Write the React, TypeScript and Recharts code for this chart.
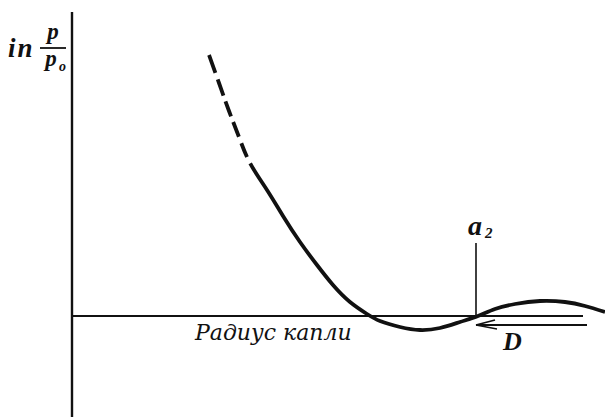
import React from 'react';
import { ComposedChart, Line, XAxis, YAxis, ReferenceLine, ReferenceDot } from 'recharts';

// Droplet radius (x) against ln(p/p0) (y), origin where the axes cross.
const radius = [137, 147, 157, 167, 178, 195, 211, 228, 245, 261, 278, 295, 308, 328, 348, 368, 388, 406, 423, 443, 468, 493, 513, 533];
const lnP = [261, 233, 205, 179, 153, 126, 100, 74, 51, 31, 14, 2, -5, -11, -14, -12, -6, 0, 7, 12, 15, 14, 10, 4];

// the first stretch of the branch is only sketched: dashes, then solid to the end
const SKETCH_DASHES = '19 7 17 6 16 6 16 7 15 7 4000 0';

// second crossing of the zero line, marked a2
const a2Radius = 404;

const X_DOMAIN: [number, number] = [-72, 533];
const Y_DOMAIN: [number, number] = [-101, 316];

const curveData = radius.map((r, i) => ({ r, v: lnP[i] }));

const serif = "'Liberation Serif', 'DejaVu Serif', serif";
const INK = '#111';

const YTitle = (p: any) => {
  const x = p.cx;
  const y = p.cy;
  return (
    <g fill={INK} fontFamily={serif} fontStyle="italic" fontWeight="bold">
      <text x={x} y={y} fontSize={27} letterSpacing={2}>in</text>
      <text x={x + 45} y={y - 18} fontSize={23} textAnchor="middle">p</text>
      <line x1={x + 32} x2={x + 58} y1={y - 9} y2={y - 9} stroke={INK} strokeWidth={1.8} />
      <text x={x + 43} y={y + 9} fontSize={23} textAnchor="middle">p</text>
      <text x={x + 51} y={y + 14} fontSize={14}>o</text>
    </g>
  );
};

const A2Label = (p: any) => (
  <g fill={INK} fontFamily={serif} fontStyle="italic" fontWeight="bold">
    <text x={p.cx} y={p.cy} fontSize={28}>a</text>
    <text x={p.cx + 17} y={p.cy + 3} fontSize={15}>2</text>
  </g>
);

const DLabel = (p: any) => (
  <text x={p.cx} y={p.cy} fill={INK} fontFamily={serif} fontStyle="italic" fontWeight="bold" fontSize={26}>D</text>
);

const RadiusLabel = (p: any) => (
  <text x={p.cx} y={p.cy} fill={INK} fontFamily="'DejaVu Serif', serif" fontStyle="italic" fontSize={22}>
    Радиус капли
  </text>
);

export default function App() {
  return (
    <div style={{ position: 'absolute', left: 0, top: 0, background: '#fff' }}>
      <ComposedChart width={605} height={417} margin={{ top: 0, right: 0, bottom: 0, left: 0 }}>
        <XAxis type="number" dataKey="r" domain={X_DOMAIN} allowDataOverflow hide />
        <YAxis type="number" domain={Y_DOMAIN} allowDataOverflow hide />

        {/* axes */}
        <ReferenceLine segment={[{ x: 0, y: -101 }, { x: 0, y: 304 }]} stroke={INK} strokeWidth={2.4} />
        <ReferenceLine segment={[{ x: 0, y: 0 }, { x: 511, y: 0 }]} stroke={INK} strokeWidth={2.2} />

        {/* a2 marker */}
        <ReferenceLine segment={[{ x: a2Radius, y: 0 }, { x: a2Radius, y: 73 }]} stroke={INK} strokeWidth={1.6} />

        {/* D arrow pointing back toward a2 */}
        <ReferenceLine segment={[{ x: 404, y: -9 }, { x: 515, y: -9 }]} stroke={INK} strokeWidth={1.8} />
        <ReferenceLine segment={[{ x: 404, y: -9 }, { x: 423, y: -4 }]} stroke={INK} strokeWidth={1.8} />
        <ReferenceLine segment={[{ x: 404, y: -9 }, { x: 425, y: -13 }]} stroke={INK} strokeWidth={1.4} />

        <Line data={curveData} dataKey="v" type="natural" stroke={INK} strokeWidth={3.8}
          strokeDasharray={SKETCH_DASHES} dot={false} activeDot={false} isAnimationActive={false} />

        <ReferenceDot x={-64} y={259} r={1} shape={YTitle} />
        <ReferenceDot x={396} y={81} r={1} shape={A2Label} />
        <ReferenceDot x={431} y={-34} r={1} shape={DLabel} />
        <ReferenceDot x={123} y={-24} r={1} shape={RadiusLabel} />
      </ComposedChart>
    </div>
  );
}
